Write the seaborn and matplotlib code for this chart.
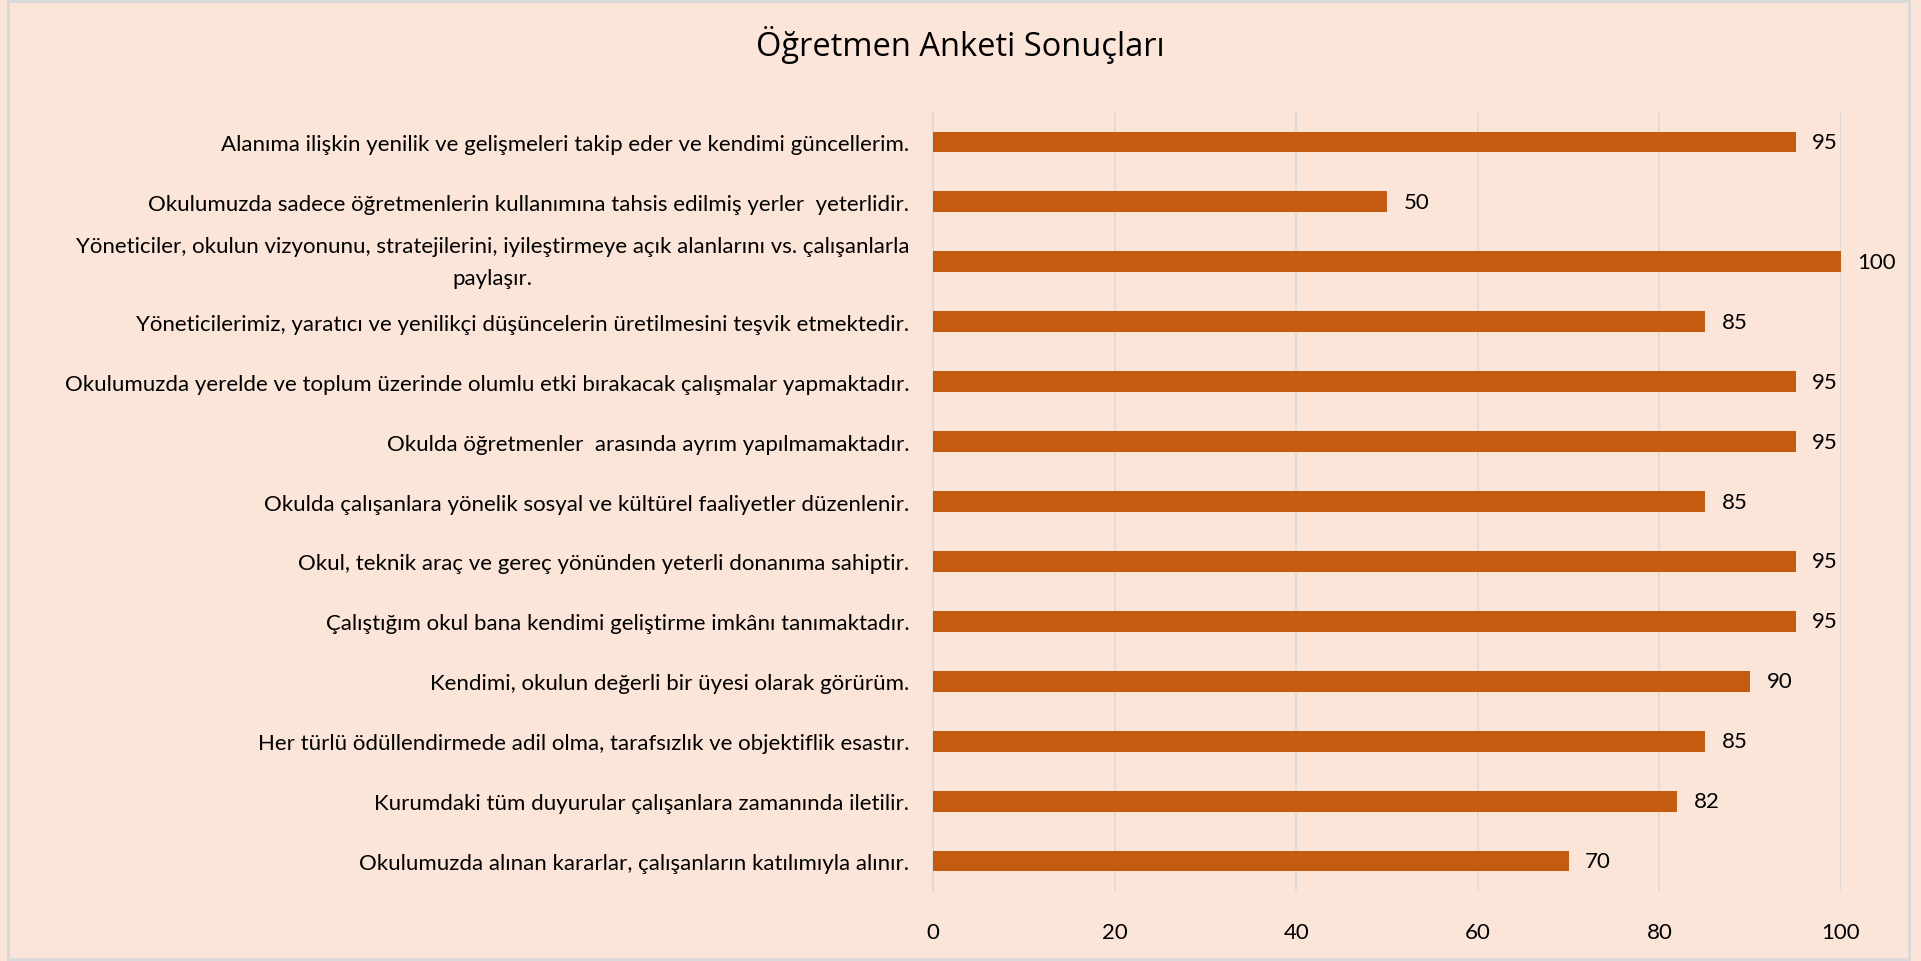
import matplotlib
matplotlib.use("Agg")
import matplotlib.pyplot as plt
import pandas as pd
import numpy as np
import seaborn as sns
from matplotlib.patches import Rectangle

# Anket maddeleri ve puanlar
maddeler = [
    "Alanıma ilişkin yenilik ve gelişmeleri takip eder ve kendimi güncellerim.",
    "Okulumuzda sadece öğretmenlerin kullanımına tahsis edilmiş yerler  yeterlidir.",
    "Yöneticiler, okulun vizyonunu, stratejilerini, iyileştirmeye açık alanlarını vs. çalışanlarla\npaylaşır.",
    "Yöneticilerimiz, yaratıcı ve yenilikçi düşüncelerin üretilmesini teşvik etmektedir.",
    "Okulumuzda yerelde ve toplum üzerinde olumlu etki bırakacak çalışmalar yapmaktadır.",
    "Okulda öğretmenler  arasında ayrım yapılmamaktadır.",
    "Okulda çalışanlara yönelik sosyal ve kültürel faaliyetler düzenlenir.",
    "Okul, teknik araç ve gereç yönünden yeterli donanıma sahiptir.",
    "Çalıştığım okul bana kendimi geliştirme imkânı tanımaktadır.",
    "Kendimi, okulun değerli bir üyesi olarak görürüm.",
    "Her türlü ödüllendirmede adil olma, tarafsızlık ve objektiflik esastır.",
    "Kurumdaki tüm duyurular çalışanlara zamanında iletilir.",
    "Okulumuzda alınan kararlar, çalışanların katılımıyla alınır.",
]
puanlar = [95, 50, 100, 85, 95, 95, 85, 95, 95, 90, 85, 82, 70]
x_ticks = [0, 20, 40, 60, 80, 100]

df = pd.DataFrame({"Madde": maddeler, "Puan": puanlar})

arka = "#FBE5D9"
sns.set_style("white")
plt.rcParams['font.family'] = ['Lato', 'DejaVu Sans']
plt.rcParams['text.color'] = 'black'
plt.rcParams['xtick.color'] = 'black'
plt.rcParams['ytick.color'] = 'black'

fig = plt.figure(figsize=(19.21, 9.62), dpi=100, facecolor=arka)
ax = fig.add_axes([0.4857, 0.0728, 0.4726, 0.8097])
ax.set_facecolor(arka)

sns.barplot(data=df, x="Puan", y="Madde", orient="h", color="#C55A11",
            saturation=1, width=0.35, linewidth=0, ax=ax, zorder=3)

ax.bar_label(ax.containers[0], padding=12, fontsize=16, color="black")

ax.set_xlim(0, 100)
ax.set_xticks(x_ticks)
ax.xaxis.grid(True, color="#D9D9D9", linewidth=1.2, zorder=0)
ax.set_xlabel("")
ax.set_ylabel("")
for s in ["top", "right", "bottom"]:
    ax.spines[s].set_visible(False)
ax.spines["left"].set_color("#D9D9D9")
ax.spines["left"].set_linewidth(1.2)

ax.tick_params(axis="x", length=0, pad=22, labelsize=16, labelcolor="black")
ax.tick_params(axis="y", length=0, pad=17, labelsize=16, labelcolor="black")
ax.set_yticks(np.arange(-0.5, len(maddeler), 1), minor=True)
ax.tick_params(axis="y", which="minor", length=6, color="#D9D9D9", width=1.2)
for lbl in ax.get_yticklabels():
    lbl.set_multialignment("center")
    if "\n" in lbl.get_text():
        lbl.set_linespacing(1.75)
        lbl.set_va("center")

fig.text(0.5, 0.953, "Öğretmen Anketi Sonuçları", ha="center", va="center",
         fontsize=23.5, family=['Open Sans', 'DejaVu Sans'])

# Çerçeve
fig.patches.append(Rectangle((0.004, 0.002), 0.99, 0.996, transform=fig.transFigure,
                             fill=False, edgecolor="#D9D9D9", linewidth=2))

fig.savefig("out.png", dpi=100, facecolor=arka)
